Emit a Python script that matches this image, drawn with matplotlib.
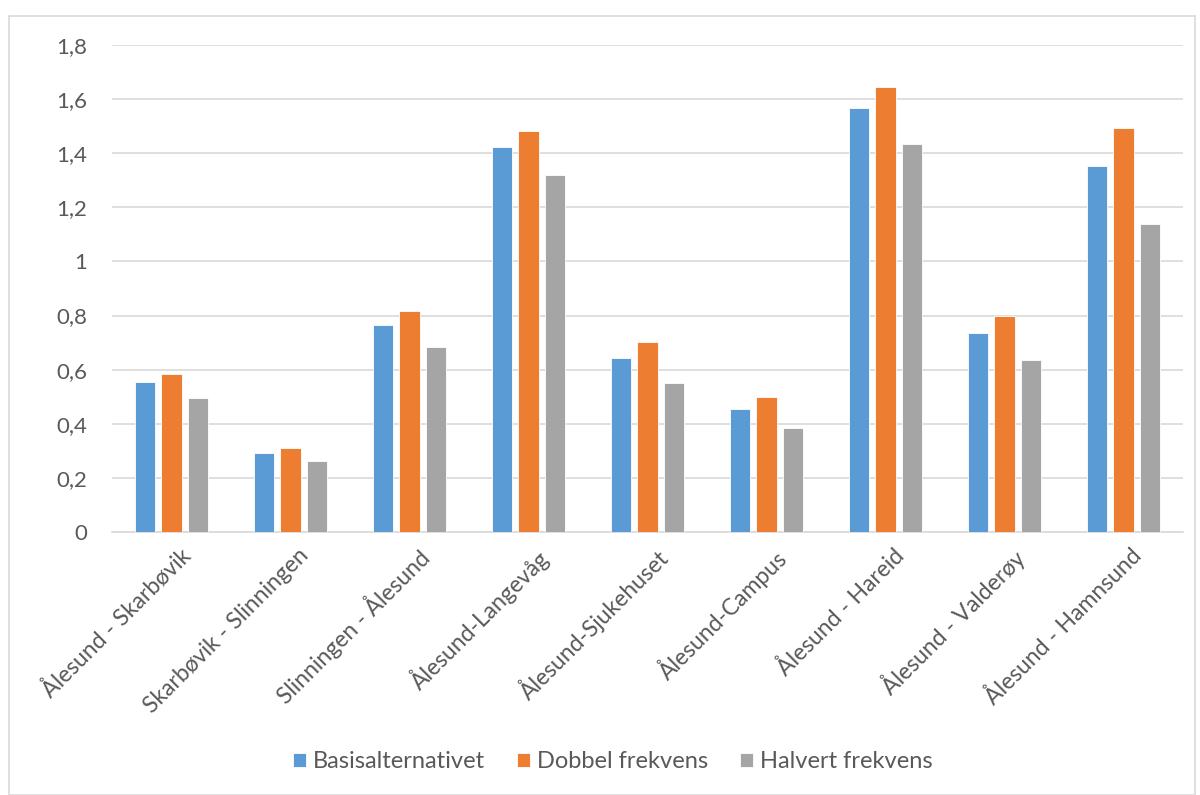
import matplotlib
matplotlib.use("Agg")
import matplotlib.pyplot as plt
import numpy as np
from matplotlib.patches import Rectangle

plt.rcParams['font.family'] = ['Lato', 'DejaVu Sans']

routes = ["Ålesund - Skarbøvik", "Skarbøvik - Slinningen", "Slinningen - Ålesund",
          "Ålesund-Langevåg", "Ålesund-Sjukehuset", "Ålesund-Campus",
          "Ålesund - Hareid", "Ålesund - Valderøy", "Ålesund - Hamnsund"]
basis = [0.554, 0.292, 0.765, 1.423, 0.643, 0.455, 1.567, 0.735, 1.353]
dobbel = [0.584, 0.310, 0.817, 1.482, 0.702, 0.499, 1.645, 0.798, 1.493]
halvert = [0.495, 0.262, 0.684, 1.319, 0.551, 0.384, 1.434, 0.636, 1.138]
series = ["Basisalternativet", "Dobbel frekvens", "Halvert frekvens"]
colors = ["#5b9bd5", "#ed7d31", "#a5a5a5"]
yticks = [0, 0.2, 0.4, 0.6, 0.8, 1, 1.2, 1.4, 1.6, 1.8]
ylabels = ["0", "0,2", "0,4", "0,6", "0,8", "1", "1,2", "1,4", "1,6", "1,8"]

fig = plt.figure(figsize=(12, 7.95), dpi=100)
ax = fig.add_axes([112/1200, 1-532/795, (1183-112)/1200, (532-45)/795])

x = np.arange(len(routes))
w = 0.17
step = 0.22
for i, (vals, name, c) in enumerate(zip([basis, dobbel, halvert], series, colors)):
    ax.bar(x + (i-1)*step, vals, w, color=c, label=name, edgecolor="white", linewidth=0.6, zorder=3)

ax.set_xlim(-0.5, len(routes)-0.5)
ax.set_ylim(0, 1.8)
ax.set_yticks(yticks)
ax.set_yticklabels(ylabels)
ax.yaxis.grid(True, color="#d9d9d9", linewidth=1.2, zorder=0)
for s in ["top", "right", "left"]:
    ax.spines[s].set_visible(False)
ax.spines["bottom"].set_color("#d9d9d9")
ax.spines["bottom"].set_linewidth(1.2)
ax.tick_params(axis="y", length=0, labelsize=16, colors="#595959", pad=18)
ax.tick_params(axis="x", length=0, labelsize=16.5, colors="#595959", pad=9)
ax.set_xticks(x + 0.06)
ax.set_xticklabels(routes, rotation=45, ha="right", rotation_mode="anchor")

fig.legend(loc="center", bbox_to_anchor=(0.511, 1-762/795), ncol=3, frameon=False,
           fontsize=17, labelcolor="#595959", handlelength=0.55, handleheight=0.55,
           columnspacing=1.35, handletextpad=0.3)

fig.patches.append(Rectangle((9/1200, 0), 1186/1200, 1-16/795, transform=fig.transFigure,
                             fill=False, edgecolor="#d9d9d9", linewidth=1.2))

fig.savefig("out.png", dpi=100)
